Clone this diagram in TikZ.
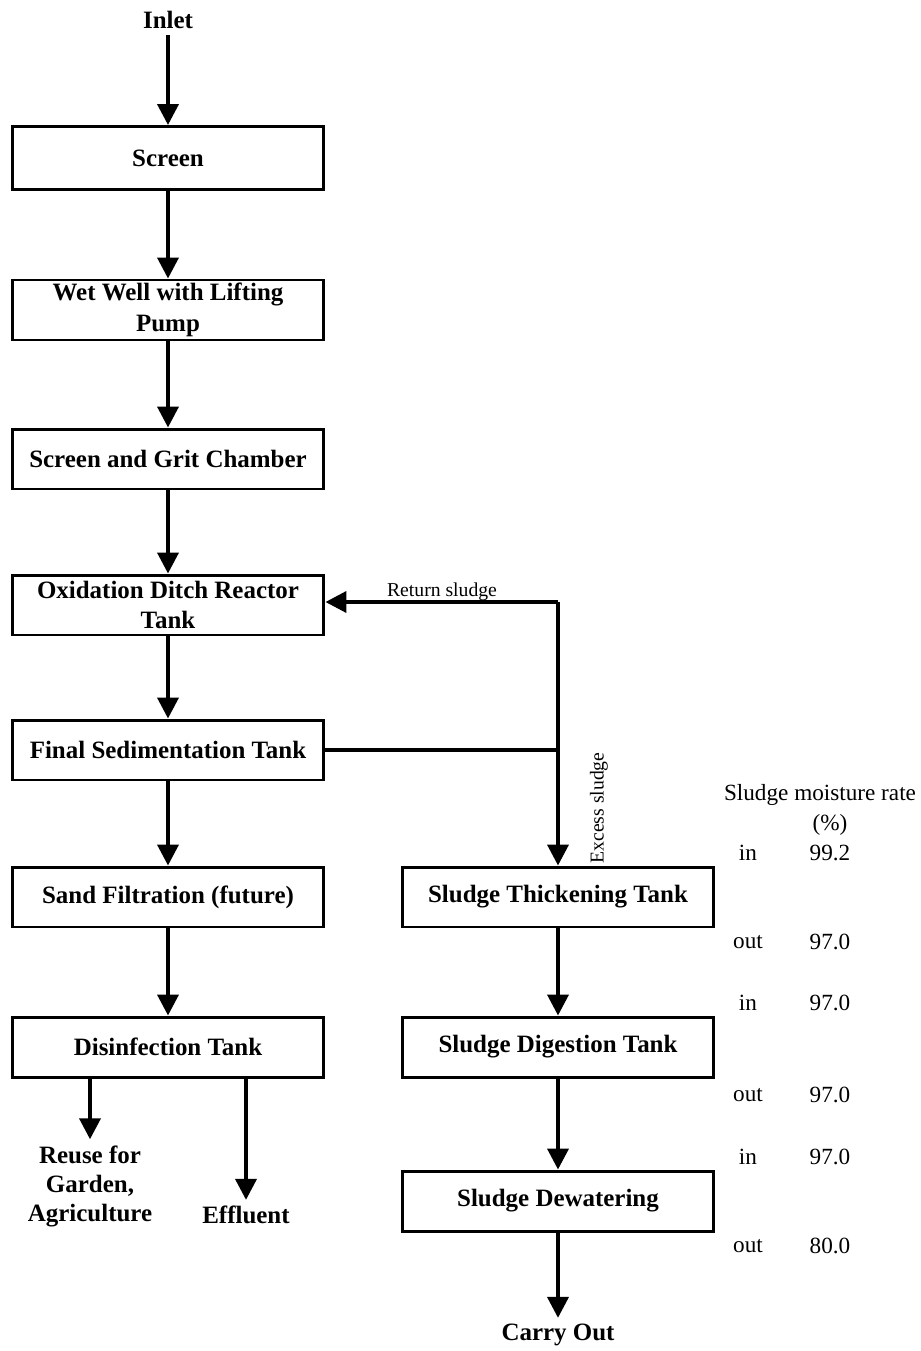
\documentclass[tikz,border=0pt]{standalone}
\usepackage{fontspec}
\setmainfont{Liberation Serif}
\usetikzlibrary{arrows.meta}

\begin{document}
\begin{tikzpicture}[x=0.02cm, y=-0.02cm,
        box/.style={draw, line width=1.7pt, minimum width=6.24cm, minimum height=1.2cm,
            align=center, inner sep=1pt, font=\fontsize{14.2}{17.5}\selectfont\bfseries},
        flow/.style={-{Triangle[length=0.42cm, width=0.42cm]}, line width=2.2pt},
        lbl/.style={align=center, font=\fontsize{14.2}{16.5}\selectfont\bfseries},
        note/.style={font=\fontsize{13.2}{15}\selectfont}]

        \useasboundingbox (0, 0) rectangle (920, 1351);

        % treatment line
        \node[lbl] at (168, 20)                          (inlet)  {Inlet};
        \node[box, minimum height=1.26cm] at (168, 158)  (screen) {Screen};
        \node[box] at (168, 310)  (well)   {Wet Well with Lifting\\Pump};
        \node[box] at (168, 459)  (grit)   {Screen and Grit Chamber};
        \node[box] at (168, 605)  (oxid)   {Oxidation Ditch Reactor\\Tank};
        \node[box] at (168, 750)  (final)  {Final Sedimentation Tank};
        \node[box] at (168, 897)  (sand)   {Sand Filtration (future)};
        \node[box] at (168, 1047) (disinf) {Disinfection Tank};

        \node[lbl] at (90, 1186)  (reuse)  {Reuse for\\Garden,\\Agriculture};
        \node[lbl] at (246, 1215) (effl)   {Effluent};

        % sludge line
        \node[box] at (558, 897)  (thick)  {Sludge Thickening Tank};
        \node[box] at (558, 1047) (digest) {Sludge Digestion Tank};
        \node[box] at (558, 1201) (dewat)  {Sludge Dewatering};
        \node[lbl] at (558, 1335) (carry)  {Carry Out};

        \coordinate (ret) at (558, 602);

        \draw[flow]  (inlet) -- (screen);
        \draw[flow]  (screen) -- (well);
        \draw[flow]  (well) -- (grit);
        \draw[flow]  (grit) -- (oxid);
        \draw[flow]  (oxid) -- (final);
        \draw[flow]  (final) -- (sand);
        \draw[flow]  (sand) -- (disinf);
        \draw[flow]  (disinf.south -| reuse) -- (reuse);
        \draw[flow]  (disinf.south -| effl) -- (effl);

        \draw[line width=2pt]  (final.east) -- (final.east -| ret);
        \draw[flow]  (ret) -- (ret -| oxid.east);
        \draw[flow]  (ret) -- (thick);
        \draw[flow]  (thick) -- (digest);
        \draw[flow]  (digest) -- (dewat);
        \draw[flow]  (dewat) -- (carry);

        \node[note, font=\fontsize{11.2}{13}\selectfont] at (442, 592) (retlbl) {Return sludge};
        \node[note, font=\fontsize{11.2}{13}\selectfont, rotate=90] at (599, 808) (exlbl) {Excess sludge};

        % moisture table
        \node[note] at (820, 795) (mtitle) {Sludge moisture rate};
        \node[note] at (830, 825) (mpct)   {(\%)};
        \foreach \y/\k/\v in {853/in/99.2, 942/out/97.0, 1003/in/97.0,
                              1095/out/97.0, 1157/in/97.0, 1246/out/80.0} {
            \node[note] at (748, \y) (k\y) {\k};
            \node[note] at (830, \y) (v\y) {\v};
        }

    \end{tikzpicture}
\end{document}
